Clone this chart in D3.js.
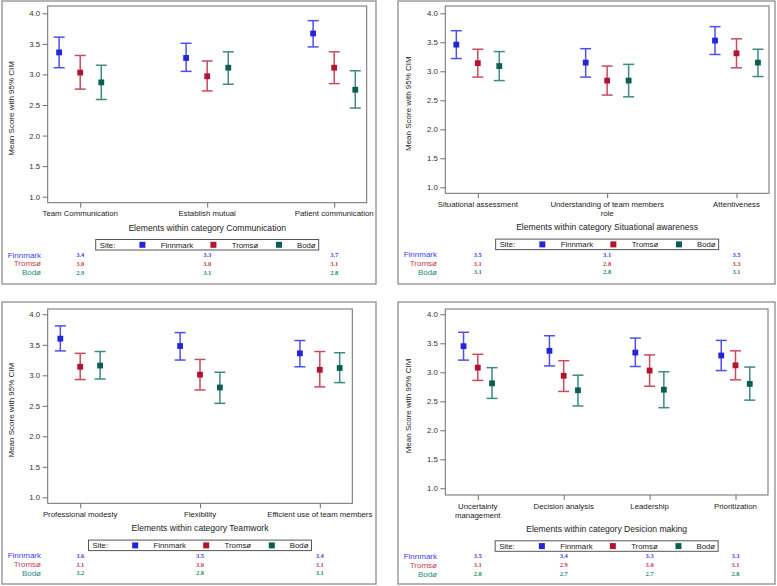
<!DOCTYPE html>
<html>
<head>
<meta charset="utf-8">
<script src="https://cdn.jsdelivr.net/npm/d3@7"></script>
<style>
  body { margin: 0; background: #fff; }
  text { font-family: "Liberation Sans", Arial, sans-serif; }
</style>
</head>
<body>
<svg id="chart" width="777" height="586"></svg>
<script>
// sites and shared axis ticks
const sites = ["Finnmark", "Tromsø", "Bodø"];
const yTicks = [1.0, 1.5, 2.0, 2.5, 3.0, 3.5, 4.0];

// Communication (rows = site, cols = element)
const commCats = ["Team Communication", "Establish mutual", "Patient communication"];
const commMean = [[3.36, 3.27, 3.67], [3.03, 2.97, 3.11], [2.87, 3.11, 2.75]];
const commLow  = [[3.11, 3.05, 3.45], [2.76, 2.73, 2.85], [2.59, 2.84, 2.45]];
const commHigh = [[3.61, 3.51, 3.88], [3.31, 3.22, 3.37], [3.15, 3.37, 3.06]];
const commTable = [["3.4", "3.3", "3.7"], ["3.0", "3.0", "3.1"], ["2.9", "3.1", "2.8"]];

// Situational awareness
const situCats = ["Situational assessment", "Understanding of team members\nrole", "Attentiveness"];
const situMean = [[3.46, 3.15, 3.53], [3.14, 2.84, 3.31], [3.09, 2.84, 3.15]];
const situLow  = [[3.22, 2.90, 3.29], [2.90, 2.59, 3.06], [2.84, 2.56, 2.91]];
const situHigh = [[3.70, 3.39, 3.77], [3.38, 3.09, 3.56], [3.34, 3.12, 3.38]];
const situTable = [["3.5", "3.1", "3.5"], ["3.1", "2.8", "3.3"], ["3.1", "2.8", "3.1"]];

// Teamwork
const teamCats = ["Professional modesty", "Flexibility", "Efficient use of team members"];
const teamMean = [[3.60, 3.48, 3.36], [3.14, 3.01, 3.09], [3.16, 2.80, 3.12]];
const teamLow  = [[3.40, 3.25, 3.14], [2.93, 2.76, 2.81], [2.94, 2.54, 2.88]];
const teamHigh = [[3.81, 3.70, 3.57], [3.36, 3.26, 3.39], [3.39, 3.05, 3.37]];
const teamTable = [["3.6", "3.5", "3.4"], ["3.1", "3.0", "3.1"], ["3.2", "2.8", "3.1"]];

// Decision making
const deciCats = ["Uncertainty\nmanagement", "Decision analysis", "Leadership", "Prioritization"];
const deciMean = [[3.45, 3.37, 3.34, 3.29], [3.08, 2.94, 3.03, 3.12], [2.81, 2.69, 2.70, 2.80]];
const deciLow  = [[3.21, 3.11, 3.10, 3.03], [2.86, 2.67, 2.76, 2.87], [2.55, 2.42, 2.39, 2.52]];
const deciHigh = [[3.69, 3.63, 3.59, 3.55], [3.31, 3.20, 3.30, 3.37], [3.08, 2.95, 3.01, 3.09]];
const deciTable = [["3.5", "3.4", "3.3", "3.3"], ["3.1", "2.9", "3.0", "3.1"], ["2.8", "2.7", "2.7", "2.8"]];

const markColor = d3.scaleOrdinal().domain(sites).range(["#2525d8", "#b3142f", "#0a5e54"]);
const barColor  = d3.scaleOrdinal().domain(sites).range(["#4f4ff0", "#cd4a5d", "#3b8b80"]);
const textColor = d3.scaleOrdinal().domain(sites).range(["#4040ee", "#c83c50", "#2a8a7a"]);

const panels = [
  { title: "Communication", cats: commCats, mean: commMean, low: commLow, high: commHigh, table: commTable,
    box: [2, 1, 376, 284], l: 47.7, r: 366.7, t: 6, b: 202.7, y4: 13.3, y1: 196.7 },
  { title: "Situational awareness", cats: situCats, mean: situMean, low: situLow, high: situHigh, table: situTable,
    box: [398, 1, 775, 284], l: 445.3, r: 769, t: 6, b: 193.3, y4: 13.3, y1: 187.3 },
  { title: "Teamwork", cats: teamCats, mean: teamMean, low: teamLow, high: teamHigh, table: teamTable,
    box: [2, 302, 376, 584], l: 47.7, r: 352.3, t: 309, b: 503.3, y4: 314.3, y1: 497.3 },
  { title: "Desicion making", cats: deciCats, mean: deciMean, low: deciLow, high: deciHigh, table: deciTable,
    box: [398, 302, 775, 584], l: 445.3, r: 768, t: 309, b: 495, y4: 314.3, y1: 488.3 }
];

const svg = d3.select("#chart");
const fs = 7.8;

panels.forEach(p => {
  const g = svg.append("g");
  const [bx0, by0, bx1, by1] = p.box;
  g.append("rect")
    .attr("x", bx0).attr("y", by0).attr("width", bx1 - bx0).attr("height", by1 - by0)
    .attr("fill", "none").attr("stroke", "#8e8e8e").attr("stroke-width", 1.3);

  const x = d3.scalePoint().domain(p.cats).range([p.l + 32.5, p.r - 32.5]);
  const y = d3.scaleLinear().domain([1, 4]).range([p.y1, p.y4]);
  const off = d3.scalePoint().domain(sites).range([-x.step() * 0.166, x.step() * 0.166]);

  // plot frame
  g.append("rect")
    .attr("x", p.l).attr("y", p.t).attr("width", p.r - p.l).attr("height", p.b - p.t)
    .attr("fill", "none").attr("stroke", "#6e6e6e").attr("stroke-width", 1);

  // y axis
  const ya = g.append("g").attr("transform", `translate(${p.l},0)`)
    .call(d3.axisLeft(y).tickValues(yTicks).tickFormat(d3.format(".1f")).tickSize(5).tickPadding(2.5));
  ya.select(".domain").remove();
  ya.selectAll("line").attr("stroke", "#6e6e6e");
  ya.selectAll("text").attr("font-size", fs).attr("fill", "#333").style("font-family", "Liberation Sans, Arial, sans-serif");

  g.append("text")
    .attr("transform", `translate(${p.l - 34},${(p.t + p.b) / 2 + 4}) rotate(-90)`)
    .attr("text-anchor", "middle").attr("font-size", fs + 0.2).attr("fill", "#222")
    .text("Mean Score with 95% CIM");

  // x axis
  const xa = g.append("g").attr("transform", `translate(0,${p.b})`)
    .call(d3.axisBottom(x).tickSize(5).tickFormat(""));
  xa.select(".domain").remove();
  xa.selectAll("line").attr("stroke", "#6e6e6e");

  let maxLines = 1;
  p.cats.forEach(c => {
    const lines = c.split("\n");
    maxLines = Math.max(maxLines, lines.length);
    const t = g.append("text").attr("text-anchor", "middle").attr("font-size", fs).attr("fill", "#222");
    lines.forEach((ln, k) => {
      t.append("tspan").attr("x", x(c)).attr("y", p.b + 13.6 + k * 9.3).text(ln);
    });
  });

  const axisLabelY = p.b + 28 + (maxLines - 1) * 9;
  g.append("text")
    .attr("x", (p.l + p.r) / 2).attr("y", axisLabelY)
    .attr("text-anchor", "middle").attr("font-size", 8.6).attr("fill", "#222")
    .text("Elements within category " + p.title);

  // error bars and markers
  const rows = [];
  sites.forEach((s, si) => {
    p.cats.forEach((c, ci) => {
      rows.push({ site: s, cat: c, mean: p.mean[si][ci], low: p.low[si][ci], high: p.high[si][ci] });
    });
  });
  const cx = d => x(d.cat) + off(d.site);
  const marks = g.append("g").selectAll("g").data(rows).join("g");
  marks.append("line")
    .attr("x1", cx).attr("x2", cx).attr("y1", d => y(d.low)).attr("y2", d => y(d.high))
    .attr("stroke", d => barColor(d.site)).attr("stroke-width", 1.5);
  ["low", "high"].forEach(k => {
    marks.append("line")
      .attr("x1", d => cx(d) - 5.5).attr("x2", d => cx(d) + 5.5)
      .attr("y1", d => y(d[k])).attr("y2", d => y(d[k]))
      .attr("stroke", d => barColor(d.site)).attr("stroke-width", 1.5);
  });
  marks.append("rect")
    .attr("x", d => cx(d) - 2.9).attr("y", d => y(d.mean) - 2.9)
    .attr("width", 5.8).attr("height", 5.8)
    .attr("fill", d => markColor(d.site));

  // legend
  const legTop = axisLabelY + 8.8;
  const legW = 223;
  const legL = (p.l + p.r) / 2 - legW / 2;
  const leg = g.append("g").attr("transform", `translate(${legL},${legTop})`);
  leg.append("rect").attr("width", legW).attr("height", 10.5)
    .attr("fill", "#fff").attr("stroke", "#555").attr("stroke-width", 1);
  leg.append("text").attr("x", 4).attr("y", 8.3).attr("font-size", fs).attr("fill", "#222").text("Site:");
  const sqX = [46.7, 117.7, 183.3];
  const txX = [65, 136, 201.3];
  sites.forEach((s, i) => {
    leg.append("rect").attr("x", sqX[i] - 3).attr("y", 2.3).attr("width", 6).attr("height", 6)
      .attr("fill", markColor(s));
    leg.append("text").attr("x", txX[i]).attr("y", 8.3).attr("font-size", fs).attr("fill", "#222").text(s);
  });

  // table of means under the plot
  const rowY = legTop + 18;
  sites.forEach((s, si) => {
    g.append("text")
      .attr("x", bx0 + 39).attr("y", rowY + si * 8.9)
      .attr("text-anchor", "end").attr("font-size", 8).attr("fill", textColor(s))
      .text(s);
    p.cats.forEach((c, ci) => {
      g.append("text")
        .attr("x", x(c)).attr("y", rowY + si * 8.9 - 0.5)
        .attr("text-anchor", "middle").attr("font-size", 6.5)
        .attr("font-weight", "bold")
        .style("font-family", "Liberation Serif, serif")
        .attr("fill", textColor(s))
        .text(p.table[si][ci]);
    });
  });
});
</script>
</body>
</html>
